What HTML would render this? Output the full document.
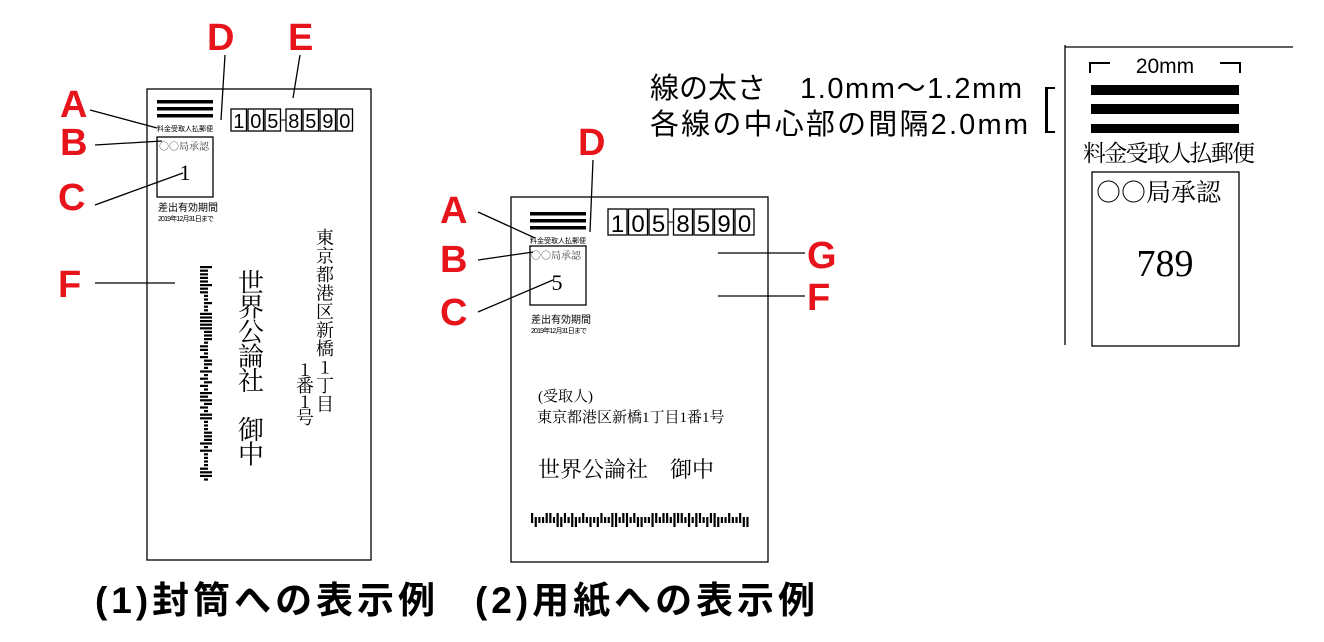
<!DOCTYPE html>
<html><head><meta charset="utf-8"><style>
body{margin:0;background:#fff;width:1324px;height:637px;overflow:hidden}
svg text{font-family:"Liberation Sans","Noto Sans CJK JP",sans-serif}
.s{font-family:"Liberation Serif","Noto Serif CJK SC",serif !important}
.c{font-family:"Noto Serif CJK SC",serif !important}
.r{fill:#e8141c;font-size:38px;font-weight:bold}
</style></head><body>
<svg id="sv" width="1324" height="637" viewBox="0 0 1324 637" xmlns="http://www.w3.org/2000/svg">
<g fill="none" stroke="#000" stroke-width="1.3">
<rect x="147" y="89" width="224" height="471"/>
<rect x="157" y="137" width="56" height="60"/>
<rect x="511" y="197" width="257" height="365"/>
<rect x="530" y="246" width="56" height="59"/>
<rect x="1092" y="172" width="147" height="174"/>
<path d="M1065 45V345M1065 47H1293"/>
<path d="M90 110L157 128M95 145L162 141M95 205L183 173M225 55L221 120M300 55L293 98M95 283H175"/>
<path d="M478 212L535 238M478 260L533 252M478 312L553 280M593 160L590 232M718 253H805M718 296H805"/>
</g>
<g fill="#000">
<rect x="157" y="100" width="56" height="3.5"/><rect x="157" y="107" width="56" height="3.5"/><rect x="157" y="114" width="56" height="3.5"/>
<rect x="530" y="212" width="56" height="3.5"/><rect x="530" y="219" width="56" height="3.5"/><rect x="530" y="226" width="56" height="3.5"/>
<rect x="1091" y="85" width="148" height="10"/><rect x="1091" y="104" width="148" height="10"/><rect x="1091" y="124" width="148" height="9"/>
<path d="M1091 73V64H1110V62H1089V73ZM1239 73V64H1220V62H1241V73Z"/>
<path d="M1045 87H1055V89H1048V131H1055V133H1045Z"/>
</g>
<g id="bc1"></g><g id="bc2"></g>
<g id="pc1"></g><g id="pc2"></g>
<text class="r" x="60" y="117">A</text><text class="r" x="60" y="155">B</text><text class="r" x="58" y="210">C</text>
<text class="r" x="207" y="50">D</text><text class="r" x="288" y="50">E</text><text class="r" x="58" y="297">F</text>
<text class="r" x="440" y="223">A</text><text class="r" x="440" y="272">B</text><text class="r" x="440" y="325">C</text>
<text class="r" x="578" y="155">D</text><text class="r" x="807" y="268">G</text><text class="r" x="807" y="310">F</text>
<text x="157" y="131" font-size="7" textLength="56">料金受取人払郵便</text>
<text x="159" y="150" font-size="10" fill="#444" class="c">○○局承認</text>
<text x="185" y="180" font-size="22" text-anchor="middle" class="s">1</text>
<text x="158" y="211" font-size="10">差出有効期間</text>
<text x="158" y="221" font-size="7" textLength="56">2019年12月31日まで</text>
<text x="530" y="243" font-size="7" textLength="56">料金受取人払郵便</text>
<text x="531" y="259" font-size="10" fill="#444" class="c">○○局承認</text>
<text x="557" y="290" font-size="22" text-anchor="middle" class="s">5</text>
<text x="531" y="323" font-size="10">差出有効期間</text>
<text x="531" y="333" font-size="7" textLength="56">2019年12月31日まで</text>
<g id="vt"></g>
<text class="s" x="538" y="401" font-size="15">(受取人)</text>
<text class="s" x="537" y="422" font-size="15">東京都港区新橋1丁目1番1号</text>
<text class="s" x="538" y="477" font-size="22">世界公論社　御中</text>
<text x="95" y="613" font-size="37" font-weight="bold" textLength="340">(1)封筒への表示例</text>
<text x="475" y="613" font-size="37" font-weight="bold" textLength="340">(2)用紙への表示例</text>
<text x="650" y="98" font-size="29">線の太さ</text>
<text x="800" y="98" font-size="29" textLength="222">1.0mm～1.2mm</text>
<text x="650" y="134" font-size="29" textLength="378">各線の中心部の間隔2.0mm</text>
<text x="1165" y="73" font-size="21" text-anchor="middle">20mm</text>
<text class="s" x="1083" y="161" font-size="23" textLength="172">料金受取人払郵便</text>
<text class="c" x="1096" y="201" font-size="25">○○局承認</text>
<text class="s" x="1165" y="276" font-size="38" text-anchor="middle">789</text>
</svg>
<script>
var NS="http://www.w3.org/2000/svg";
function el(p,t,a,tx){var e=document.createElementNS(NS,t);for(var k in a)e.setAttribute(k,a[k]);if(tx)e.textContent=tx;document.getElementById(p).appendChild(e);return e;}
var seed=7;function rnd(){seed=(seed*9301+49297)%233280;return seed/233280;}
for(var i=0;i<60;i++){var x=531+i*3.65,t=rnd();var y=513,h=14;if(t<0.3){y=517;h=6}else if(t<0.55){y=513;h=10}else if(t<0.75){y=517;h=10}
el("bc2","rect",{x:x,y:y,width:2.2,height:h,fill:"#000"});}
for(var i=0;i<60;i++){var y=266+i*3.6,t=rnd();var x=200,w=12;if(t<0.3){x=204;w=4}else if(t<0.55){x=200;w=8}else if(t<0.75){x=204;w=8}
el("bc1","rect",{x:x,y:y,width:w,height:2.2,fill:"#000"});}
function pc(g,x0,y0,w,h,gap){var d="1058590";var x=x0;for(var i=0;i<7;i++){el(g,"rect",{x:x,y:y0,width:w,height:h,fill:"none",stroke:"#000","stroke-width":1.3});
el(g,"text",{x:x+w/2,y:y0+h-3,"font-size":h-2,"text-anchor":"middle"},d[i]);x+=w+1.5;if(i==2){el(g,"line",{x1:x-1,y1:y0+h/2,x2:x+gap,y2:y0+h/2,stroke:"#000"});x+=gap;}}}
pc("pc1",231,109,15.5,22,4);pc("pc2",608,209,19,26,4);
function vt(x,y,s,fs,step){for(var i=0;i<s.length;i++){el("vt","text",{x:x,y:y+i*step,"font-size":fs,"text-anchor":"middle","class":"c"},s[i]);}}
vt(325,244,"東京都港区新橋1丁目",18,18.5);
vt(305,376,"1番1号",18,16);
vt(251,292,"世界公論社　御中",26,24.5);
</script>
</body></html>
